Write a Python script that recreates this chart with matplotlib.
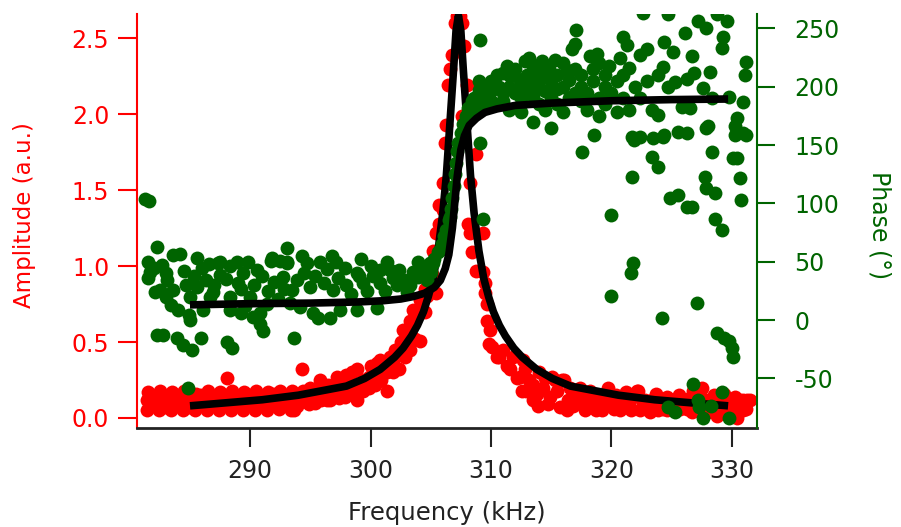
import matplotlib
matplotlib.use("Agg")
import matplotlib.pyplot as plt
import numpy as np

plt.rcParams["font.family"] = "DejaVu Sans"
plt.rcParams["axes.unicode_minus"] = False

RED = "#ff0000"
GREEN = "#006400"

# amplitude data (red), frequency in kHz
amp_freq = [
    281.4, 281.4, 281.5, 281.9, 281.9, 282.4, 282.4, 282.5, 282.9, 282.9,
    283.4, 283.4, 283.5, 283.9, 283.9, 284.4, 284.4, 284.5, 284.9, 284.9,
    285.4, 285.4, 285.5, 285.9, 285.9, 286.4, 286.4, 286.5, 286.9, 286.9,
    287.4, 287.4, 287.5, 287.9, 287.9, 288.1, 288.4, 288.4, 288.5, 288.9,
    288.9, 289.4, 289.4, 289.5, 289.9, 289.9, 290.4, 290.4, 290.5, 290.9,
    290.9, 291.4, 291.4, 291.5, 291.9, 291.9, 292.4, 292.4, 292.5, 292.9,
    292.9, 293.4, 293.4, 293.5, 293.6, 293.9, 293.9, 294.3, 294.4, 294.4,
    294.9, 294.9, 295.0, 295.4, 295.4, 295.8, 295.9, 295.9, 296.4, 296.4,
    296.5, 296.6, 296.9, 296.9, 297.2, 297.4, 297.4, 297.9, 297.9, 298.0,
    298.4, 298.4, 298.5, 298.9, 298.9, 298.9, 299.4, 299.4, 299.9, 299.9,
    300.0, 300.4, 300.4, 300.5, 300.9, 300.9, 300.8, 301.4, 301.4, 301.6,
    301.9, 301.9, 302.0, 302.4, 302.4, 302.5, 302.9, 302.9, 302.7, 303.3,
    303.3, 303.3, 303.5, 303.7, 303.7, 304.1, 304.1, 304.1, 304.5, 304.5,
    304.7, 304.8, 305.1, 305.2, 305.4, 305.4, 305.7, 305.7, 306.0, 306.0,
    306.2, 306.3, 306.4, 306.6, 306.8, 307.0, 307.2, 307.4, 307.6, 307.6,
    307.8, 308.0, 308.1, 308.3, 308.3, 308.4, 308.8, 308.8, 309.3, 309.3,
    309.5, 309.5, 309.7, 309.7, 309.8, 309.9, 310.1, 310.5, 310.7, 311.0,
    311.3, 311.6, 311.8, 312.2, 312.4, 312.6, 312.7, 312.8, 312.9, 313.2,
    313.5, 313.5, 313.8, 314.0, 314.3, 314.5, 314.9, 315.1, 315.3, 315.5,
    315.9, 316.1, 316.3, 316.4, 316.6, 317.1, 317.4, 317.5, 317.8, 317.9,
    318.2, 318.5, 318.8, 319.0, 319.2, 319.5, 319.7, 319.7, 320.0, 320.4,
    320.7, 320.9, 321.2, 321.5, 321.8, 322.1, 322.2, 322.4, 322.8, 323.0,
    323.4, 323.7, 324.0, 324.3, 324.6, 324.9, 324.9, 325.3, 325.6, 326.0,
    326.3, 326.5, 326.8, 327.1, 327.5, 327.5, 327.9, 328.2, 328.5, 328.8,
    328.8, 329.1, 329.4, 329.6, 330.0, 330.1, 330.4, 330.7, 330.9, 330.9,
    331.3, 331.5, 331.2, 331.0, 330.3, 329.8, 329.2, 328.0, 327.2, 326.7,
    313.9, 314.7, 315.7, 316.8, 317.2, 318.0, 318.7, 319.3, 320.2, 321.0,
    321.6, 322.6, 323.2, 323.9, 324.6, 325.0, 325.7, 326.2, 326.9, 327.7,
]
amp_vals = [
    0.05, 0.12, 0.17, 0.08, 0.14, 0.05, 0.11, 0.18, 0.07, 0.13,
    0.05, 0.10, 0.17, 0.08, 0.15, 0.05, 0.12, 0.18, 0.07, 0.13,
    0.05, 0.10, 0.16, 0.09, 0.15, 0.05, 0.12, 0.18, 0.08, 0.14,
    0.05, 0.11, 0.17, 0.09, 0.15, 0.26, 0.05, 0.12, 0.18, 0.08,
    0.14, 0.05, 0.11, 0.17, 0.09, 0.15, 0.05, 0.12, 0.18, 0.08,
    0.14, 0.05, 0.11, 0.17, 0.09, 0.16, 0.06, 0.12, 0.18, 0.09,
    0.15, 0.05, 0.12, 0.18, 0.05, 0.08, 0.14, 0.32, 0.11, 0.18,
    0.09, 0.15, 0.20, 0.10, 0.17, 0.25, 0.12, 0.19, 0.12, 0.18,
    0.22, 0.12, 0.14, 0.20, 0.27, 0.13, 0.19, 0.14, 0.21, 0.28,
    0.16, 0.22, 0.30, 0.12, 0.19, 0.32, 0.18, 0.25, 0.20, 0.27,
    0.34, 0.22, 0.29, 0.36, 0.25, 0.32, 0.38, 0.18, 0.30, 0.40,
    0.30, 0.37, 0.45, 0.32, 0.42, 0.50, 0.40, 0.50, 0.58, 0.45,
    0.56, 0.64, 0.71, 0.52, 0.65, 0.51, 0.70, 0.78, 0.70, 0.85,
    0.80, 0.95, 0.95, 1.10, 0.82, 1.22, 1.28, 1.40, 1.37, 1.55,
    1.81, 1.93, 2.19, 2.30, 2.39, 2.60, 2.65, 2.65, 2.60, 1.99,
    2.45, 2.19, 1.28, 1.55, 1.22, 1.09, 1.74, 0.97, 1.22, 0.96,
    0.89, 0.82, 0.64, 0.75, 0.49, 0.58, 0.47, 0.40, 0.40, 0.45,
    0.34, 0.32, 0.40, 0.26, 0.27, 0.18, 0.38, 0.32, 0.18, 0.25,
    0.12, 0.22, 0.16, 0.30, 0.20, 0.26, 0.14, 0.27, 0.25, 0.18,
    0.25, 0.25, 0.05, 0.12, 0.20, 0.18, 0.20, 0.12, 0.05, 0.14,
    0.18, 0.10, 0.15, 0.10, 0.05, 0.14, 0.18, 0.20, 0.10, 0.15,
    0.05, 0.12, 0.17, 0.10, 0.14, 0.18, 0.18, 0.05, 0.12, 0.08,
    0.12, 0.16, 0.10, 0.06, 0.14, 0.10, 0.12, 0.08, 0.15, 0.10,
    0.06, 0.13, 0.18, 0.09, 0.20, 0.05, 0.12, 0.08, 0.15, 0.05,
    0.01, 0.10, 0.16, 0.11, 0.06, 0.01, 0.00, 0.12, 0.12, 0.05,
    0.12, 0.12, 0.06, 0.09, 0.14, 0.08, 0.03, 0.04, 0.14, 0.04,
    0.08, 0.09, 0.07, 0.08, 0.10, 0.09, 0.05, 0.12, 0.06, 0.08,
    0.05, 0.10, 0.04, 0.05, 0.05, 0.05, 0.06, 0.12, 0.10, 0.09,
]

# phase data (green), degrees
phase_freq = [
    281.3, 281.6, 282.3, 281.5, 281.5, 282.1, 282.7, 283.6, 284.2, 285.6,
    283.1, 283.6, 283.4, 284.0, 285.0, 285.6, 286.3, 286.1, 285.0, 284.9,
    286.7, 287.3, 287.5, 288.3, 288.9, 289.8, 289.4, 290.6, 291.7, 293.1,
    286.9, 288.3, 289.2, 290.0, 288.3, 289.2, 290.2, 290.8, 291.1, 290.8,
    282.3, 282.8, 283.9, 284.4, 285.2, 285.9, 288.1, 288.5, 281.7, 282.5,
    293.1, 292.7, 287.5, 291.8, 292.5, 295.8, 297.1, 284.8, 293.1, 294.7,
    297.9, 298.9, 300.0, 300.8, 301.6, 302.4, 303.5, 304.7, 305.2, 293.9,
    295.0, 296.1, 296.9, 298.0, 299.4, 300.8, 302.2, 293.3, 294.1, 295.2,
    295.6, 296.6, 297.5, 298.9, 300.5, 293.6, 303.0, 304.7, 282.0, 283.0,
    284.5, 285.3, 286.0, 287.0, 288.0, 289.0, 290.3, 291.0, 291.5, 292.0,
    292.3, 293.5, 294.5, 295.4, 296.4, 297.3, 298.4, 299.0, 299.7, 300.2,
    301.2, 301.9, 302.8, 303.3, 303.9, 304.3, 289.6, 291.4, 283.0, 284.7,
    286.6, 292.8, 294.3, 296.8, 299.2, 301.4, 303.9, 305.0,
    305.3, 305.6, 305.8, 305.9, 306.1, 306.3, 306.5, 306.6, 306.7, 306.8,
    306.9, 307.0, 307.1, 307.2, 307.3, 307.5, 307.7, 307.9, 308.1, 308.4,
    304.1, 304.9, 309.1, 309.1, 309.3, 308.5, 310.7, 311.6, 312.4,
    308.6, 308.6, 309.0, 309.0, 309.0, 309.5, 309.5, 309.5, 310.0, 310.0,
    310.0, 310.5, 310.5, 311.0, 311.0, 311.0, 311.5, 311.5, 312.0, 312.0,
    312.5, 312.5, 312.5, 313.0, 313.0, 313.5, 313.5, 313.5, 313.5, 314.0,
    314.0, 314.0, 314.5, 314.5, 314.5, 315.0, 315.0, 315.3, 315.0, 315.5,
    315.5, 315.5, 316.0, 316.0, 316.0, 316.7, 316.5, 316.5, 317.0, 317.1,
    317.0, 317.0, 317.6, 317.5, 317.5, 317.5, 318.2, 318.0, 318.0, 318.6,
    318.5, 318.5, 319.0, 319.0, 319.0, 319.5, 319.5, 319.5, 320.0, 320.0,
    320.7, 320.0, 320.5, 320.5, 321.0, 321.0, 321.0, 321.3, 321.5, 321.5,
    321.7, 321.7, 321.8, 321.6, 321.9, 322.0, 322.4, 322.4, 322.4, 322.6,
    323.0, 323.4, 323.0, 323.5, 323.4, 323.9, 323.9, 323.9, 324.3, 324.3,
    324.4, 324.4, 324.7, 324.7, 324.9, 325.1, 325.3, 325.5, 325.5, 325.9,
    326.1, 326.3, 326.3, 326.3, 326.5, 326.7, 326.7, 326.9, 327.2, 327.6,
    327.8, 327.9, 327.9, 327.9, 328.0, 328.2, 328.4, 328.4, 328.6, 328.6,
    328.8, 329.2, 329.2, 329.3, 329.6, 329.8, 330.1, 330.3, 330.3, 330.4,
    330.4, 330.7, 330.8, 330.9, 330.9, 331.1, 331.2, 331.2,
    313.2, 314.2, 314.8, 316.3, 318.8, 319.8, 312.8, 311.3,
    324.2, 327.1, 328.8, 329.4, 329.8, 330.0, 330.1, 326.8, 327.2, 327.3,
    327.6, 328.3, 329.2, 329.8, 324.7, 325.3,
]
phase_vals = [
    104, 102, 63, 50, 36, 24, 47, 56, 57, 53,
    34, 26, 13, 9, 20, 28, 34, 9, 0, 4,
    20, 49, 39, 46, 50, 50, 40, 43, 51, 62,
    24, 20, 27, 20, 9, 6, 3, 6, -9, -3,
    -13, -13, -15, -21, -26, -15, -19, -24, 41, 26,
    50, 37, 50, 53, 51, 50, 50, -58, 49, 49,
    45, 40, 46, 43, 43, 43, 41, 46, 49, 34,
    28, 32, 26, 30, 32, 32, 30, 15, 11, 6,
    2, 2, 9, 9, 10, -15, 24, 34, 45, 40,
    42, 38, 45, 30, 35, 32, 30, 38, 25, 33,
    18, 26, 40, 38, 44, 36, 22, 38, 25, 38,
    25, 36, 34, 30, 37, 42, 12, 14, 20, 30,
    48, 27, 55, 55, 52, 50, 50, 41,
    52, 58, 60, 65, 72, 77, 86, 88, 95, 105,
    115, 125, 135, 145, 152, 160, 168, 175, 182, 188,
    40, 49, 240, 152, 87, 189, 200, 209, 206,
    190, 180, 197, 185, 205, 192, 200, 183, 205, 188,
    196, 210, 185, 195, 212, 188, 200, 180, 195, 215,
    200, 190, 178, 210, 198, 170, 205, 192, 218, 200,
    185, 212, 196, 208, 180, 165, 190, 223, 205, 210,
    198, 185, 220, 200, 178, 232, 206, 190, 237, 249,
    215, 195, 144, 210, 188, 200, 226, 195, 180, 159,
    205, 215, 190, 220, 175, 200, 210, 185, 90, 21,
    225, 195, 205, 178, 243, 210, 190, 236, 216, 180,
    157, 123, 49, 40, 154, 200, 227, 157, 190, 263,
    232, 140, 205, 156, 180, 176, 131, 210, 217, 157,
    238, 159, 262, 200, 105, 230, 204, 161, 107, 183,
    246, 207, 160, 97, 182, 226, 97, 212, 256, 199,
    123, 113, 250, 165, 166, 213, 190, 144, 109, 87,
    262, 77, 233, 243, 256, 191, 139, 159, 166, 173,
    139, 122, 103, 187, 160, 210, 221, 159,
    225, 222, 215, 214, 228, 218, 222, 218,
    2, 15, -11, -15, -18, -24, -32, -55, -69, -75,
    -84, -74, -62, -84, -75, -79,
]

# fitted curves (black)
fit_amp_freq = [
    285.0, 288.0, 291.0, 294.0, 296.0, 298.0, 299.5, 300.8, 302.0, 302.7,
    303.4, 303.9, 304.4, 304.8, 305.2, 305.6, 306.0, 306.3, 306.6, 306.9,
    307.1, 307.3, 307.5, 307.7, 308.0, 308.3, 308.6, 309.0, 309.4, 309.8,
    310.2, 310.7, 311.2, 311.9, 312.6, 313.8, 315.1, 316.6, 318.6, 320.6,
    323.6, 326.6, 329.7,
]
fit_amp = [
    0.08, 0.10, 0.12, 0.15, 0.18, 0.21, 0.26, 0.32, 0.40, 0.46,
    0.54, 0.61, 0.70, 0.80, 0.92, 1.10, 1.35, 1.60, 1.95, 2.30,
    2.55, 2.65, 2.55, 2.30, 1.95, 1.60, 1.35, 1.10, 0.92, 0.80,
    0.70, 0.61, 0.54, 0.46, 0.40, 0.32, 0.26, 0.21, 0.18, 0.15,
    0.12, 0.10, 0.08,
]
fit_phase_freq = [
    285.0, 290.0, 295.0, 299.0, 301.0, 302.5, 303.5, 304.5, 305.3, 305.8,
    306.2, 306.5, 306.8, 307.0, 307.2, 307.5, 307.8, 308.2, 308.8, 309.5,
    310.5, 312.0, 315.0, 320.0, 325.0, 329.7,
]
fit_phase = [
    13, 14, 14.5, 15.5, 16.5, 18, 20, 23, 28, 34,
    44, 56, 79, 101, 123, 146, 158, 167, 173, 178,
    181, 184, 186, 188, 189, 189.5,
]

fig = plt.figure(figsize=(9.01, 5.27), dpi=100)
ax1 = fig.add_axes([137 / 901, 1 - 428 / 527, 620 / 901, 414 / 527])
ax2 = ax1.twinx()

ax1.scatter(amp_freq, amp_vals, s=100, color=RED, linewidths=0, zorder=2)
ax1.plot(fit_amp_freq, fit_amp, color="black", lw=5.5, solid_capstyle="butt", zorder=3)
ax2.scatter(phase_freq, phase_vals, s=100, color=GREEN, linewidths=0, zorder=2)
ax2.plot(fit_phase_freq, fit_phase, color="black", lw=5.5, solid_capstyle="butt", zorder=3)

ax1.set_xlim(280.6, 332.1)
ax1.set_ylim(-0.066, 2.66)
ax2.set_ylim(-92.6, 262.4)

ax1.set_xticks([290, 300, 310, 320, 330])
ax1.set_yticks([0, 0.5, 1.0, 1.5, 2.0, 2.5])
ax1.set_yticklabels(["0.0", "0.5", "1.0", "1.5", "2.0", "2.5"])
ax2.set_yticks([-50, 0, 50, 100, 150, 200, 250])

for ax in (ax1, ax2):
    ax.spines["top"].set_visible(False)
ax2.spines["left"].set_visible(False)
ax2.spines["bottom"].set_visible(False)
ax1.spines["right"].set_visible(False)
ax1.spines["left"].set_color(RED)
ax1.spines["left"].set_linewidth(1.5)
ax1.spines["bottom"].set_color("#222222")
ax1.spines["bottom"].set_linewidth(2)
ax2.spines["right"].set_color(GREEN)
ax2.spines["right"].set_linewidth(1.5)

ax1.tick_params(axis="y", colors=RED, length=14, width=1.5, labelsize=17, pad=6)
ax1.tick_params(axis="x", colors="#222222", length=14, width=1.5, labelsize=17, pad=8)
ax2.tick_params(axis="y", colors=GREEN, length=13, width=1.5, labelsize=17, pad=14)

ax1.set_ylabel("Amplitude (a.u.)", color=RED, fontsize=16.5, va="center")
ax1.yaxis.set_label_coords(-0.181, 0.515)
ax2.set_ylabel("Phase (°)", color=GREEN, fontsize=17, rotation=270, va="center")
ax2.yaxis.set_label_coords(1.198, 0.49)
ax1.set_xlabel("Frequency (kHz)", color="#222222", fontsize=17.5, va="center")
ax1.xaxis.set_label_coords(0.5, -0.205)

assert len(amp_freq) == len(amp_vals)
assert len(phase_freq) == len(phase_vals)

fig.savefig("out.png", dpi=100)
